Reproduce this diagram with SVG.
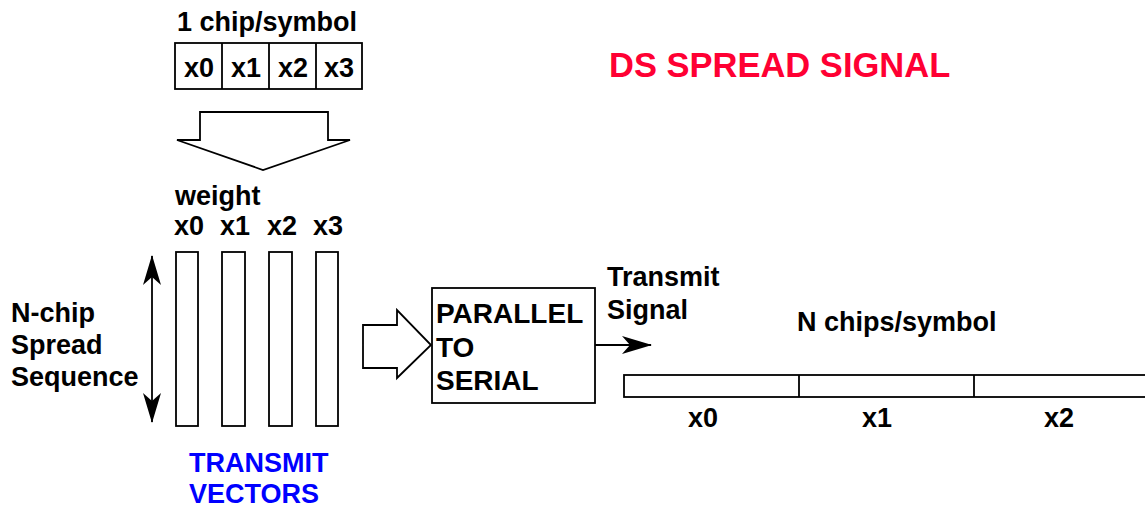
<svg xmlns="http://www.w3.org/2000/svg" width="1145" height="510" viewBox="0 0 1145 510">
<style>
  text{font-family:"Liberation Sans",Arial,sans-serif;font-weight:bold;font-size:27px;fill:#000}
  .box{fill:#fff;stroke:#000;stroke-width:1.8}
  .ln{fill:none;stroke:#000;stroke-width:1.8}
  .mid{text-anchor:middle}
</style>
<defs>
  <marker id="ahl" markerWidth="30" markerHeight="18" refX="29" refY="9" orient="auto-start-reverse" markerUnits="userSpaceOnUse">
    <path d="M0,0 L30,9 L0,18 L8,9 Z" fill="#000"/>
  </marker>
</defs>
<rect width="1145" height="510" fill="#fff"/>

<text x="609" y="77" style="font-size:34.5px;fill:#ff0033">DS SPREAD SIGNAL</text>

<g id="symbol">
  <text x="177" y="31">1 chip/symbol</text>
  <rect class="box" x="175" y="43" width="187" height="46"/>
  <line class="ln" x1="222" y1="43" x2="222" y2="89"/>
  <line class="ln" x1="269" y1="43" x2="269" y2="89"/>
  <line class="ln" x1="316" y1="43" x2="316" y2="89"/>
  <text class="mid" x="199" y="77">x0</text>
  <text class="mid" x="246" y="77">x1</text>
  <text class="mid" x="293" y="77">x2</text>
  <text class="mid" x="339" y="77">x3</text>
</g>

<g id="down-arrow">
  <path class="box" d="M200,112 L328,112 L328,140 L350,140 L263,170 L177,140 L200,140 Z"/>
</g>

<g id="vectors">
  <text x="175" y="205">weight</text>
  <text x="174" y="235">x0</text>
  <text x="220" y="235">x1</text>
  <text x="267" y="235">x2</text>
  <text x="313" y="235">x3</text>
  <rect class="box" x="176" y="252" width="22" height="174"/>
  <rect class="box" x="222" y="252" width="23" height="174"/>
  <rect class="box" x="269" y="252" width="23" height="174"/>
  <rect class="box" x="316" y="252" width="22" height="174"/>
  <text x="189" y="472" style="fill:#0000ff">TRANSMIT</text>
  <text x="189" y="503" style="fill:#0000ff">VECTORS</text>
</g>

<g id="spread-label">
  <text x="11" y="322">N-chip</text>
  <text x="11" y="354">Spread</text>
  <text x="11" y="386">Sequence</text>
</g>

<g id="right-arrow">
  <path class="box" d="M363,325 L397,325 L397,310 L431,345 L397,378 L397,368 L363,368 Z"/>
</g>

<g id="p2s">
  <rect class="box" x="432" y="288" width="163" height="115"/>
  <text x="436" y="323" style="font-size:28px">PARALLEL</text>
  <text x="436" y="357" style="font-size:28px">TO</text>
  <text x="436" y="390" style="font-size:28px">SERIAL</text>
</g>

<g id="transmit-label">
  <text x="607" y="286">Transmit</text>
  <text x="607" y="319">Signal</text>
</g>

<g id="serial">
  <text x="797" y="331">N chips/symbol</text>
  <rect class="box" x="624" y="375" width="540" height="22"/>
  <line class="ln" x1="799" y1="375" x2="799" y2="397"/>
  <line class="ln" x1="974" y1="375" x2="974" y2="397"/>
  <text class="mid" x="703" y="427">x0</text>
  <text class="mid" x="877" y="427">x1</text>
  <text class="mid" x="1059" y="427">x2</text>
</g>

<g id="connectors">
  <line class="ln" x1="152" y1="256" x2="152" y2="422" marker-start="url(#ahl)" marker-end="url(#ahl)"/>
  <line class="ln" x1="595" y1="345" x2="651" y2="345" marker-end="url(#ahl)"/>
</g>
</svg>
